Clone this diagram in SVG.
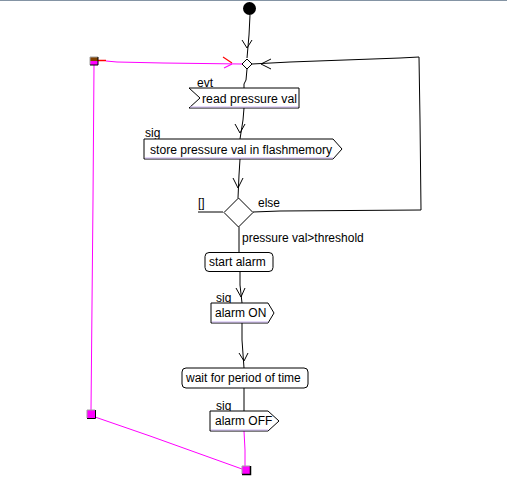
<svg xmlns="http://www.w3.org/2000/svg" width="507" height="493" viewBox="0 0 507 493">
<style>
text{font-family:"Liberation Sans",Arial,sans-serif;font-size:12px;fill:#000}
.ln{fill:none;stroke:#000;stroke-width:1}
.mg{fill:none;stroke:#ff00ff;stroke-width:1}
.box{fill:#fff;stroke:#000;stroke-width:1}
.sh{fill:none;stroke:#c8b0f0;stroke-width:1}
.sq{fill:#ff00ff;stroke:none}
</style>
<rect x="0" y="0" width="507" height="493" fill="#fff"/>
<line x1="0" y1="0.5" x2="507" y2="0.5" stroke="#8494a4" stroke-width="1"/>
<g id="connectors">
<polyline class="ln" points="250,15 249,35 247,58"/>
<polyline class="ln" points="242,40 247,48 252,40"/>
<polyline class="ln" points="247,69 246,80 244,84 244,88"/>
<polyline class="ln" points="244,108 243,120 240,139"/>
<polyline class="ln" points="235,124 240,133 245,124"/>
<polyline class="ln" points="240,159 239,175 238,198"/>
<polyline class="ln" points="233,178 238,188 243,178"/>
<polyline class="ln" points="253,212 280,211 421,210 420,120 419,57 400,58 290,62 252,64"/>
<polyline class="ln" points="271,59 261,64 271,69"/>
<line class="ln" x1="198" y1="212" x2="223" y2="212"/>
<line class="ln" x1="239" y1="227" x2="239" y2="252"/>
<polyline class="ln" points="240,272 240,285 242,303"/>
<polyline class="ln" points="236,288 241,297 245,288"/>
<polyline class="ln" points="242,323 242,340 244,368"/>
<polyline class="ln" points="239,353 244,361 248,353"/>
<line class="ln" x1="244" y1="388" x2="244" y2="411"/>
<polyline class="mg" points="244,431 245,450 245,466"/>
<polyline class="mg" points="95,417 150,436 242,469"/>
<polyline class="mg" points="94,65 93,200 91,410"/>
<polyline class="mg" points="106,61 117,62 163,63 242,64"/>
<line x1="98" y1="60.5" x2="106" y2="60.5" stroke="#ff0000" stroke-width="1.5"/>
<line x1="223" y1="57" x2="232" y2="63" stroke="#ff0000" stroke-width="1.2"/>
<line x1="224" y1="68" x2="232" y2="64" stroke="#ff00ff" stroke-width="1.2"/>
</g>
<g id="initial">
<circle cx="249.5" cy="8.5" r="6.5" fill="#000"/>
</g>
<g id="merge">
<polygon class="box" points="247,59 252,64 247,69 242,64"/>
</g>
<g id="read-pressure">
<text x="197" y="87">evt</text>
<polygon class="box" points="189,88 299,88 299,108 189,108 200,98"/>
<polyline class="sh" points="190,107 298,107"/>
<text x="202" y="103" textLength="95" lengthAdjust="spacingAndGlyphs">read pressure val</text>
</g>
<g id="store-pressure">
<text x="145" y="137">sig</text>
<polygon class="box" points="144,139 333,139 342,149 333,159 144,159"/>
<polyline class="sh" points="145,158 333,158"/>
<text x="150" y="154" textLength="182" lengthAdjust="spacingAndGlyphs">store pressure val in flashmemory</text>
</g>
<g id="decision">
<polygon class="box" points="238.5,198 253,212.5 238.5,227 224,212.5"/>
<text x="198" y="207">[]</text>
<text x="258" y="207">else</text>
<text x="242" y="242">pressure val&gt;threshold</text>
</g>
<g id="start-alarm">
<rect class="box" x="205" y="252.5" width="68" height="19" rx="4"/>
<text x="209" y="266">start alarm</text>
</g>
<g id="alarm-on">
<text x="216" y="302">sig</text>
<polygon class="box" points="211,303 268,303 274,313 268,323 211,323"/>
<polyline class="sh" points="212,322 268,322"/>
<text x="215" y="317">alarm ON</text>
</g>
<g id="wait">
<rect class="box" x="182" y="368" width="126" height="20" rx="4"/>
<text x="186" y="382">wait for period of time</text>
</g>
<g id="alarm-off">
<text x="216" y="410">sig</text>
<polygon class="box" points="210,411 268,411 279,421 268,431 210,431"/>
<polyline class="sh" points="211,430 268,430"/>
<text x="215" y="425">alarm OFF</text>
</g>
<g id="pseudo-top">
<rect x="90" y="57" width="8" height="4" fill="#804000"/>
<rect x="90" y="61" width="8" height="4" fill="#ff00ff"/>
<polyline points="90,65 90,57 98,57" fill="none" stroke="#a0a0a0" stroke-width="1"/>
<polyline points="98,57 98,65 90,65" fill="none" stroke="#000" stroke-width="1"/>
</g>
<g id="pseudo-left">
<rect class="sq" x="87" y="410" width="8" height="8"/>
<polyline points="87,418 87,410 95,410" fill="none" stroke="#a0a0a0" stroke-width="1"/>
<polyline points="95.5,410 95.5,418.5 87,418.5" fill="none" stroke="#000" stroke-width="1"/>
</g>
<g id="pseudo-bottom">
<rect class="sq" x="242" y="466" width="8" height="8"/>
<polyline points="242,474 242,466 250,466" fill="none" stroke="#a0a0a0" stroke-width="1"/>
<polyline points="250.5,466 250.5,474.5 242,474.5" fill="none" stroke="#000" stroke-width="1.5"/>
</g>
</svg>
